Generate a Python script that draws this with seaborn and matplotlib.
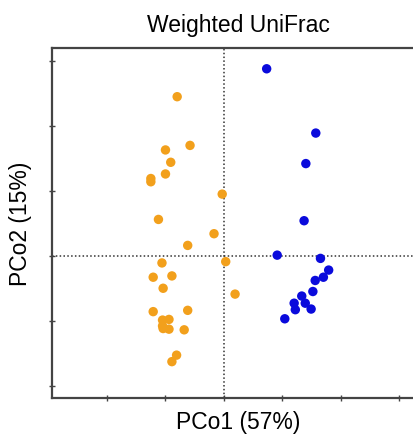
import pandas as pd
import matplotlib
matplotlib.use("Agg")
import matplotlib.pyplot as plt
import seaborn as sns

# PCoA coordinates
group_a_x = [-0.80, -0.58, -1.00, -0.91, -1.00, -1.25, -1.25, -0.03, -1.12, -0.17,
             -0.62, 0.03, -1.06, -1.21, -0.89, -1.04, 0.19, -1.21, -0.62, -1.05,
             -0.94, -1.05, -0.94, -1.04, -0.68, -0.81, -0.89]
group_a_y = [2.45, 1.70, 1.63, 1.44, 1.26, 1.19, 1.14, 0.95, 0.56, 0.34,
             0.16, -0.09, -0.11, -0.33, -0.31, -0.50, -0.59, -0.86, -0.84, -0.99,
             -0.98, -1.08, -1.13, -1.12, -1.14, -1.53, -1.63]
group_b_x = [0.73, 1.57, 1.40, 1.37, 0.91, 1.65, 1.79, 1.70, 1.56, 1.52,
             1.33, 1.20, 1.39, 1.22, 1.49, 1.04]
group_b_y = [2.88, 1.89, 1.42, 0.54, 0.01, -0.04, -0.22, -0.33, -0.38, -0.55,
             -0.62, -0.73, -0.73, -0.83, -0.82, -0.97]

df = pd.DataFrame({
    "PCo1": group_a_x + group_b_x,
    "PCo2": group_a_y + group_b_y,
    "group": ["A"] * len(group_a_x) + ["B"] * len(group_b_x),
})

sns.set_style("white")
plt.rcParams["font.family"] = ["Liberation Sans", "DejaVu Sans"]
plt.rcParams["text.color"] = "black"
plt.rcParams["axes.labelcolor"] = "black"

fig = plt.figure(figsize=(4.14, 4.35), dpi=100)
ax = fig.add_axes([52 / 414, 36 / 435, 372 / 414, 350 / 435])

ax.axhline(0, color="#333333", linestyle=(0, (1, 1.5)), linewidth=1.1, zorder=1)
ax.axvline(0, color="#333333", linestyle=(0, (1, 1.5)), linewidth=1.1, zorder=1)

sns.scatterplot(data=df, x="PCo1", y="PCo2", hue="group",
                palette={"A": "#F2A01C", "B": "#0A0ADC"},
                s=46, edgecolor="none", legend=False, ax=ax, zorder=3)

ax.set_xlim(-2.94, 3.42)
ax.set_ylim(-2.19, 3.20)
ax.set_xticks([-2, -1, 0, 1, 2, 3])
ax.set_yticks([-2, -1, 0, 1, 2, 3])
ax.set_xticklabels([])
ax.set_yticklabels([])
ax.tick_params(direction="inout", length=4, width=1, color="#444444",
               bottom=True, left=True)
for side in ax.spines.values():
    side.set_color("#444444")
    side.set_linewidth(1.6)

ax.set_title("Weighted UniFrac", fontsize=16.5, pad=12, x=(238 - 52) / 372)
ax.set_xlabel("PCo1 (57%)", fontsize=16.5, labelpad=3)
ax.set_ylabel("PCo2 (15%)", fontsize=16.5, labelpad=9)

fig.savefig("out.png", dpi=100)
